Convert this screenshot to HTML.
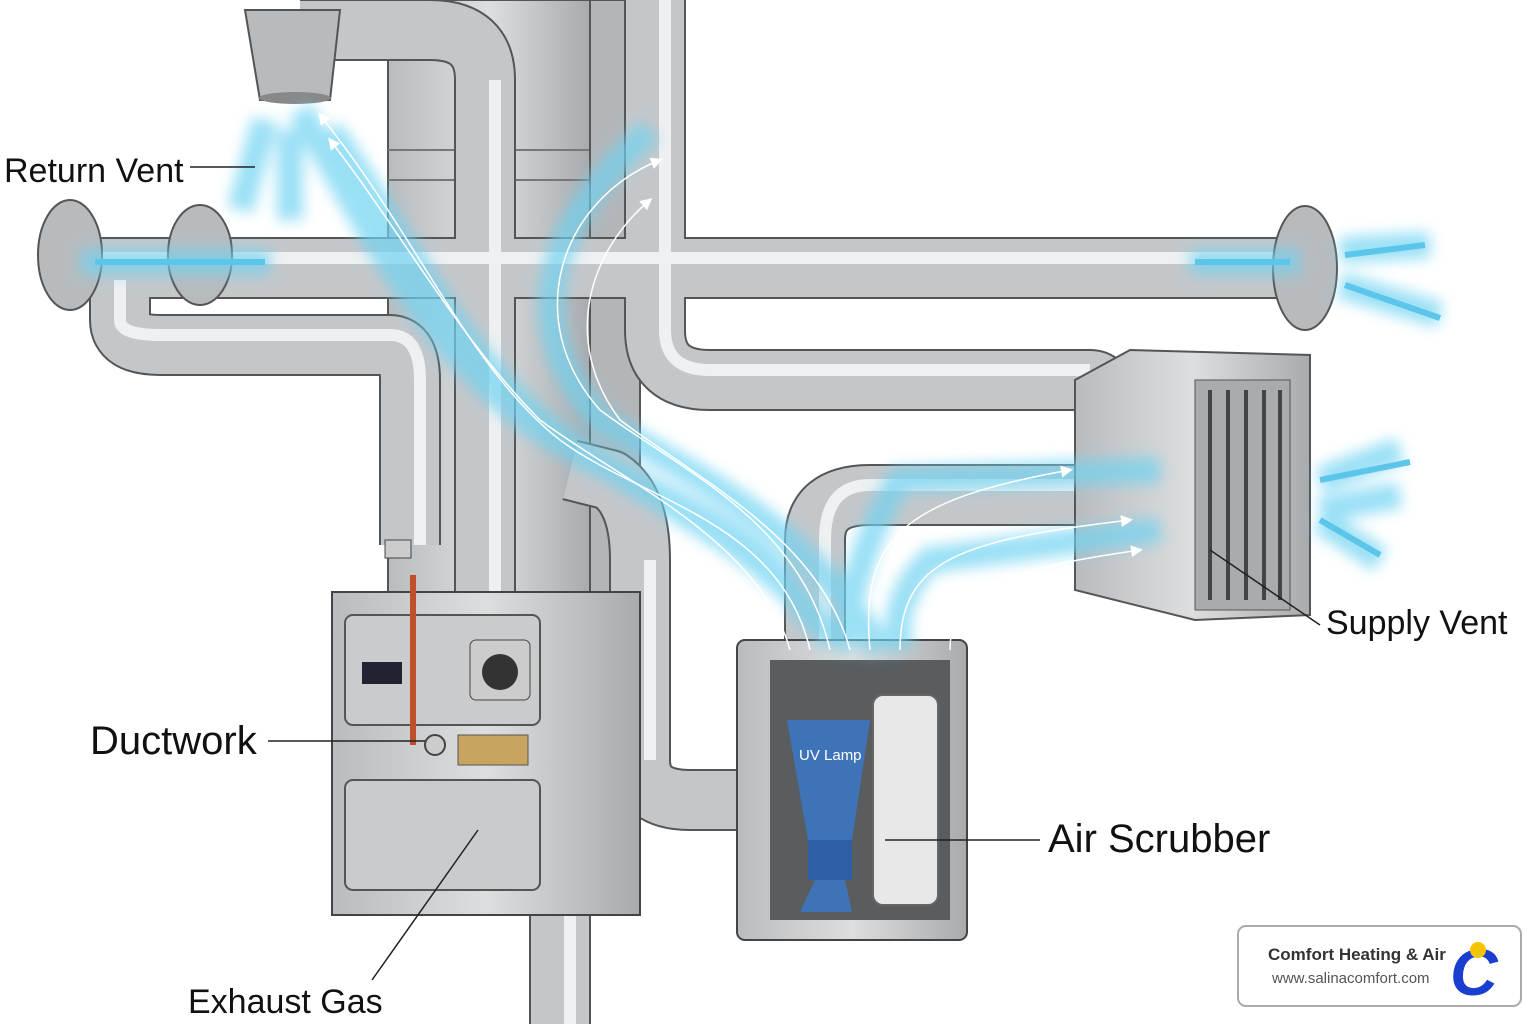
<!DOCTYPE html>
<html><head><meta charset="utf-8"><style>
html,body{margin:0;padding:0;background:#fff}
svg{display:block}
text{font-family:"Liberation Sans",sans-serif}
</style></head><body>
<svg width="1536" height="1024" viewBox="0 0 1536 1024" xmlns="http://www.w3.org/2000/svg">
<defs>
<filter id="glow"><feGaussianBlur stdDeviation="7"/></filter>
<linearGradient id="box" x1="0" x2="1"><stop offset="0" stop-color="#b9bcbf"/><stop offset=".5" stop-color="#dcdedf"/><stop offset="1" stop-color="#a8abae"/></linearGradient>
<marker id="ar" markerWidth="8" markerHeight="8" refX="6" refY="4" orient="auto"><path d="M0,0 L8,4 L0,8z" fill="#fff"/></marker>
</defs>
<rect width="1536" height="1024" fill="#fff"/>
<rect x="388" y="0" width="202" height="600" fill="url(#box)" stroke="#555" stroke-width="2"/>
<line x1="388" y1="150" x2="590" y2="150" stroke="#777" stroke-width="2"/>
<line x1="388" y1="180" x2="590" y2="180" stroke="#777" stroke-width="2"/>
<rect x="590" y="0" width="50" height="900" fill="#b3b6b9" stroke="#555" stroke-width="2"/>
<g fill="none" stroke-linecap="butt" stroke-linejoin="round">
<g stroke="#555" stroke-width="62">
<path d="M120,280 L120,320 Q120,345 160,345 L390,345 Q410,345 410,380 L410,545"/>
<path d="M70,268 L1300,268"/>
<path d="M655,0 L655,330 Q655,380 710,380 L1090,380 Q1110,380 1110,420 L1110,470"/>
<path d="M485,600 L485,80 Q485,30 430,30 L300,30"/>
<path d="M815,640 L815,540 Q815,495 870,495 L1160,495"/>
<path d="M570,470 L610,480 Q640,500 640,560 L640,760 Q640,800 690,800 L760,800"/>
<path d="M560,915 L560,1024"/>
</g>
<g stroke="#c4c7ca" stroke-width="58">
<path d="M120,280 L120,320 Q120,345 160,345 L390,345 Q410,345 410,380 L410,545"/>
<path d="M70,268 L1300,268"/>
<path d="M655,0 L655,330 Q655,380 710,380 L1090,380 Q1110,380 1110,420 L1110,470"/>
<path d="M485,600 L485,80 Q485,30 430,30 L300,30"/>
<path d="M815,640 L815,540 Q815,495 870,495 L1160,495"/>
<path d="M570,470 L610,480 Q640,500 640,560 L640,760 Q640,800 690,800 L760,800"/>
<path d="M560,915 L560,1024"/>
</g>
<g stroke="#eef0f1" stroke-width="12">
<path d="M120,280 L120,320 Q120,335 160,335 L390,335 Q420,335 420,380 L420,545"/>
<path d="M70,258 L1300,258"/>
<path d="M665,0 L665,330 Q665,370 710,370 L1090,370"/>
<path d="M495,600 L495,80"/>
<path d="M825,640 L825,540 Q825,485 870,485 L1160,485"/>
<path d="M650,560 L650,760"/>
<path d="M570,915 L570,1024"/>
</g>
</g>
<ellipse cx="70" cy="255" rx="32" ry="55" fill="#b8bbbe" stroke="#555" stroke-width="2"/>
<ellipse cx="200" cy="255" rx="32" ry="50" fill="#b8bbbe" stroke="#555" stroke-width="2"/>
<ellipse cx="1305" cy="268" rx="32" ry="62" fill="#b8bbbe" stroke="#555" stroke-width="2"/>
<path d="M245,10 L340,10 L330,100 L260,100 Z" fill="#b8bbbe" stroke="#555" stroke-width="2"/>
<ellipse cx="295" cy="98" rx="36" ry="6" fill="#888"/>
<path d="M1075,380 L1130,350 L1310,355 L1310,615 L1195,620 L1075,590Z" fill="url(#box)" stroke="#555" stroke-width="2"/>
<rect x="1195" y="380" width="95" height="230" fill="#a9acaf" stroke="#555"/>
<g stroke="#444" stroke-width="4"><line x1="1210" y1="390" x2="1210" y2="600"/><line x1="1228" y1="390" x2="1228" y2="600"/><line x1="1246" y1="390" x2="1246" y2="600"/><line x1="1264" y1="390" x2="1264" y2="600"/><line x1="1280" y1="390" x2="1280" y2="600"/></g>
<rect x="332" y="592" width="308" height="323" fill="url(#box)" stroke="#444" stroke-width="2"/>
<rect x="345" y="615" width="195" height="110" rx="8" fill="#c9cbcd" stroke="#555" stroke-width="2"/>
<rect x="362" y="662" width="40" height="22" fill="#223" />
<rect x="470" y="640" width="60" height="60" rx="6" fill="#ccc" stroke="#444"/>
<circle cx="500" cy="672" r="18" fill="#333"/>
<rect x="345" y="780" width="195" height="110" rx="8" fill="#c9cbcd" stroke="#555" stroke-width="2"/>
<rect x="458" y="735" width="70" height="30" fill="#c8a460" stroke="#555"/>
<path d="M413,575 L413,745" stroke="#c0502a" stroke-width="6" fill="none"/>
<circle cx="435" cy="745" r="10" fill="#ccc" stroke="#444" stroke-width="2"/>
<rect x="385" y="540" width="26" height="18" fill="#ccc" stroke="#444"/>
<rect x="737" y="640" width="230" height="300" rx="8" fill="url(#box)" stroke="#444" stroke-width="2"/>
<rect x="770" y="660" width="180" height="260" fill="#5a5d60"/>
<rect x="873" y="695" width="65" height="210" rx="10" fill="#e8e8e8" stroke="#666" stroke-width="2"/>
<path d="M787,720 L870,720 L852,840 L808,840Z" fill="#3f73b8"/>
<rect x="808" y="840" width="44" height="40" fill="#2f5fa6"/>
<path d="M815,880 L845,880 L852,912 L800,912Z" fill="#3f73b8"/>
<text x="799" y="760" font-size="15" fill="#fff">UV Lamp</text>
<g fill="none" stroke="#6fd3f2" stroke-width="26" opacity=".7" filter="url(#glow)">
<path d="M300,110 C380,250 430,350 540,430 C650,500 760,520 810,620"/>
<path d="M330,130 C420,260 470,380 580,450 C690,520 780,560 830,640"/>
<path d="M650,130 C540,230 520,330 600,420 C700,480 800,520 880,650"/>
<path d="M1160,470 L900,480 Q860,540 840,650"/>
<path d="M1160,530 L930,560 Q890,600 900,650"/>
<path d="M80,262 L270,262"/>
<path d="M1190,262 L1300,262"/>
<path d="M1320,480 L1400,450 M1320,510 L1400,495 M1320,520 L1380,560"/>
<path d="M1340,250 L1430,245 M1340,285 L1440,315"/>
<path d="M240,210 L265,120 M290,220 L290,130"/>
</g>
<g fill="none" stroke="#fff" stroke-width="1.5" marker-end="url(#ar)">
<path d="M810,650 C780,520 640,500 560,440 C470,370 420,240 320,115"/>
<path d="M790,650 C760,540 620,480 540,420 C460,340 400,230 330,140"/>
<path d="M830,650 C800,520 680,470 600,410 C520,320 560,200 660,160"/>
<path d="M850,650 C820,540 700,480 620,420 C560,340 590,250 650,200"/>
<path d="M870,650 C860,540 900,500 1070,470"/>
<path d="M900,650 C900,560 960,540 1130,520"/>
<path d="M950,650 C950,590 1000,570 1140,550"/>
</g>
<g stroke="#5bc6ea" stroke-width="6" fill="none">
<path d="M95,262 L265,262"/><path d="M1195,262 L1290,262"/>
<path d="M1320,480 L1410,462 M1320,520 L1380,555 M1345,255 L1425,245 M1345,285 L1440,318"/>
</g>
<g fill="#111" font-size="34">
<text x="4" y="182">Return Vent</text>
<text x="90" y="754" font-size="40">Ductwork</text>
<text x="188" y="1013">Exhaust Gas</text>
<text x="1326" y="634">Supply Vent</text>
<text x="1048" y="852" font-size="40">Air Scrubber</text>
</g>
<g stroke="#222" stroke-width="1.5">
<line x1="190" y1="167" x2="255" y2="167"/>
<line x1="268" y1="741" x2="425" y2="741"/>
<line x1="372" y1="980" x2="478" y2="830"/>
<line x1="1320" y1="625" x2="1210" y2="550"/>
<line x1="1040" y1="840" x2="885" y2="840"/>
</g>
<rect x="1238" y="926" width="283" height="80" rx="8" fill="#fff" stroke="#aaa" stroke-width="2"/>
<text x="1268" y="960" font-size="17" font-weight="bold" fill="#333">Comfort Heating &amp; Air</text>
<text x="1272" y="983" font-size="15" fill="#555">www.salinacomfort.com</text>
<text x="1450" y="995" font-size="66" font-weight="bold" font-style="italic" fill="#1a3fd0" font-family="Liberation Serif,serif">C</text>
<circle cx="1478" cy="950" r="8" fill="#f5c400"/>
</svg>
</body></html>
